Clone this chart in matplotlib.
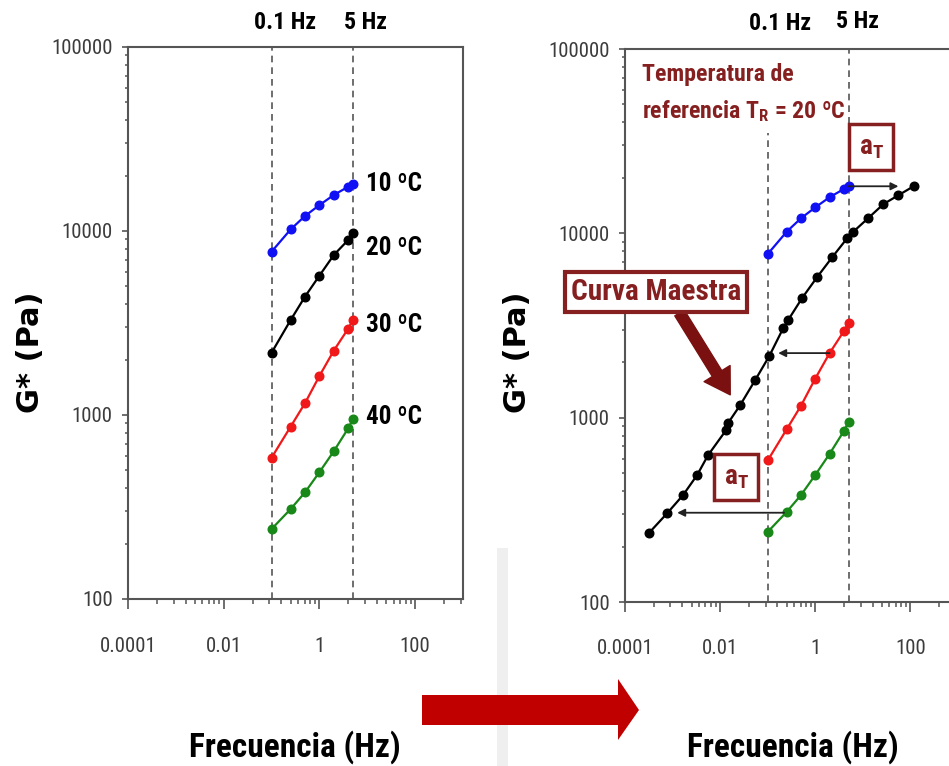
import numpy as np
import matplotlib
matplotlib.use('Agg')
import matplotlib.pyplot as plt
from matplotlib import font_manager
from matplotlib.ticker import FixedLocator, FixedFormatter, NullFormatter
from matplotlib.patches import Polygon, Rectangle

# --- data ---
freq = [0.1, 0.25, 0.5, 1, 2, 4, 5]
g_10 = [7720, 10200, 12070, 13830, 15700, 17400, 18000]
g_20 = [2180, 3280, 4400, 5720, 7410, 8940, 9800]
g_30 = [586, 864, 1160, 1630, 2240, 2950, 3280]
g_40 = [240, 308, 380, 489, 636, 847, 948]
temp_labels = ['10 ºC', '20 ºC', '30 ºC', '40 ºC']

# master curve at T_R = 20 ºC
master_freq = [3.2e-4, 7.7e-4, 1.66e-3, 3.28e-3, 5.6e-3, 0.0134, 0.0147, 0.0264,
               0.0546, 0.108, 0.212, 0.27, 0.53, 1.1, 2.28, 4.7, 6.3, 13, 27, 56, 121]
master_g = [237, 303, 380, 488, 627, 857, 935, 1170, 1600, 2160, 3060, 3390,
            4460, 5800, 7430, 9420, 10200, 12100, 14400, 16100, 18100]

# horizontal shift arrows (from -> to)
shift_from = [(5, 18000), (2, 2240), (0.22, 305)]
shift_to = [(56, 18000), (0.166, 2240), (1.25e-3, 305)]

x_ticks = [1e-4, 1e-2, 1, 100]
x_ticklabels = ['0.0001', '0.01', '1', '100']
y_ticks = [100, 1000, 10000, 100000]
y_ticklabels = ['100', '1000', '10000', '100000']

colors = ['#1010f5', '#000000', '#f01818', '#188818']
DARKRED = '#862020'
SPINE = '#555555'

installed = {f.name for f in font_manager.fontManager.ttflist}
FONT = next(f for f in ['Liberation Sans Narrow', 'Roboto Condensed', 'Roboto', 'DejaVu Sans']
            if f in installed)
plt.rcParams['font.family'] = [FONT, 'DejaVu Sans']
plt.rcParams['mathtext.default'] = 'regular'

W, H = 949, 766
fig = plt.figure(figsize=(W / 100, H / 100), dpi=100)
renderer = fig.canvas.get_renderer()


def fit(texts, target_px):
    # scale font size so the first text is target_px wide
    w = texts[0].get_window_extent(renderer).width
    size = texts[0].get_fontsize() * target_px / w
    for t in texts:
        t.set_fontsize(size)
    return size


def px_axes(left, top, right, bottom):
    return fig.add_axes([left / W, 1 - bottom / H, (right - left) / W, (bottom - top) / H])


probe = fig.text(0, 0, '0.0001', fontsize=10)
tick_size = fit([probe], 56)
probe.remove()


def style_axes(ax):
    ax.set_xscale('log')
    ax.set_yscale('log')
    ax.set_xlim(1e-4, 1e3)
    ax.set_ylim(100, 100000)
    minor_x = [10.0 ** n * k ** 2 for n in (-4, -2, 0, 2) for k in range(2, 10)]
    ax.xaxis.set_major_locator(FixedLocator(x_ticks))
    ax.xaxis.set_major_formatter(FixedFormatter(x_ticklabels))
    ax.xaxis.set_minor_locator(FixedLocator(minor_x))
    ax.xaxis.set_minor_formatter(NullFormatter())
    minor_y = [10.0 ** n * k for n in (2, 3, 4) for k in range(2, 10)]
    ax.yaxis.set_major_locator(FixedLocator(y_ticks))
    ax.yaxis.set_major_formatter(FixedFormatter(y_ticklabels))
    ax.yaxis.set_minor_locator(FixedLocator(minor_y))
    ax.yaxis.set_minor_formatter(NullFormatter())
    ax.tick_params(axis='x', which='major', direction='out', length=7, width=1.2,
                   color=SPINE, pad=20, labelsize=tick_size, labelcolor='#3c3c3c')
    ax.tick_params(axis='x', which='minor', direction='out', length=3.5, width=1.1, color=SPINE)
    ax.tick_params(axis='y', which='major', direction='out', length=4, width=1.2,
                   color=SPINE, pad=7, labelsize=tick_size, labelcolor='#3c3c3c')
    ax.tick_params(axis='y', which='minor', direction='out', length=2.5, width=1.1, color=SPINE)
    for s in ax.spines.values():
        s.set_color(SPINE)
        s.set_linewidth(1.5)


def hz_labels(ax, offsets):
    out = []
    for f, txt, (dx, dy) in zip([0.1, 5], ['0.1 Hz', '5 Hz'], offsets):
        out.append(ax.annotate(txt, xy=(f, 1), xycoords=('data', 'axes fraction'),
                               xytext=(dx, dy), textcoords='offset pixels', ha='center',
                               va='center', fontsize=16, fontweight='bold',
                               annotation_clip=False))
    return out


dash = (0, (4, 3))
line_kw = dict(marker='o', markersize=6.2, linewidth=1.6)

# ---------------- left panel ----------------
ax1 = px_axes(128, 47, 463, 599)
style_axes(ax1)
ax1.axvline(0.1, color=SPINE, ls=dash, lw=1.2, zorder=1)
ax1.axvline(5, color=SPINE, ls=dash, lw=1.2, zorder=1)
label_offsets = [(13, 0), (13, -15), (13, -5), (13, 2)]
temp_texts = []
for g, c, lab, off in zip([g_10, g_20, g_30, g_40], colors, temp_labels, label_offsets):
    ax1.plot(freq, g, color=c, **line_kw)
    temp_texts.append(ax1.annotate(lab, xy=(freq[-1], g[-1]), xytext=off,
                                   textcoords='offset pixels', ha='left', va='center',
                                   fontsize=18, fontweight='bold'))
fit(temp_texts, 56)
hz1 = hz_labels(ax1, [(13, 24), (13, 24)])

# ---------------- right panel ----------------
ax2 = px_axes(625, 49, 958, 602)
style_axes(ax2)
ax2.axvline(0.1, ymax=0.848, color=SPINE, ls=dash, lw=1.2, zorder=1)
ax2.axvline(5, color=SPINE, ls=dash, lw=1.2, zorder=1)
for g, c in zip([g_10, g_30, g_40], [colors[0], colors[2], colors[3]]):
    ax2.plot(freq, g, color=c, **line_kw)
ax2.plot(master_freq, master_g, color='black', **line_kw)
hz2 = hz_labels(ax2, [(12, 25), (9, 28)])
fit(hz1 + hz2, 62)

for p0, p1 in zip(shift_from, shift_to):
    ax2.annotate('', xy=p1, xytext=p0,
                 arrowprops=dict(arrowstyle='-|>', color='#222222', lw=1.3,
                                 mutation_scale=11, shrinkA=0, shrinkB=0))

t_ref = ax2.text(0.051, 0.974, 'Temperatura de\nreferencia T$_\\mathregular{R}$ = 20 ºC',
                 transform=ax2.transAxes, ha='left', va='top', fontsize=16,
                 fontweight='bold', color=DARKRED, linespacing=1.6)
fit([t_ref], 204)

box = dict(boxstyle='square,pad=0.35', fc='white', ec=DARKRED, lw=2.5)
a_texts = [ax2.text(15, 29400, 'a$_\\mathregular{T}$', ha='center', va='center', fontsize=20,
                    fontweight='bold', color=DARKRED, bbox=box),
           ax2.text(0.0217, 476, 'a$_\\mathregular{T}$', ha='center', va='center', fontsize=20,
                    fontweight='bold', color=DARKRED, bbox=box)]
fit(a_texts, 25)

ax2.annotate('', xy=(0.0163, 1330), xytext=(1.4e-3, 3700),
             arrowprops=dict(arrowstyle='simple,head_length=0.9,head_width=1.1,tail_width=0.4',
                             mutation_scale=20, color='#7a1010', shrinkA=0, shrinkB=0))
t_cm = ax2.text(4.5e-4, 4800, 'Curva Maestra', ha='center', va='center', fontsize=21,
                fontweight='bold', color=DARKRED,
                bbox=dict(boxstyle='square,pad=0.2', fc='white', ec=DARKRED, lw=3))
fit([t_cm], 170)

# ---------------- shared labels and decoration ----------------
for x in (31, 518):
    fig.text(x / W, 1 - 352 / H, 'G* (Pa)', rotation=90, ha='center', va='center',
             fontsize=22, fontweight='bold', family='DejaVu Sans')
xl = [fig.text(x / W, 1 - 747 / H, 'Frecuencia (Hz)', ha='center', va='center',
               fontsize=24, fontweight='bold') for x in (295, 793)]
fit(xl, 212)

deco = fig.add_axes([0, 0, 1, 1], zorder=-5)
deco.set_xlim(0, W)
deco.set_ylim(H, 0)
deco.axis('off')
deco.add_patch(Rectangle((497, 548), 11, 218, color='#efefef', lw=0))
deco.add_patch(Polygon([(422, 695), (618, 695), (618, 679), (639, 710),
                        (618, 740), (618, 725), (422, 725)], closed=True,
                       color='#c00000', lw=0))

fig.savefig('out.png', dpi=100)
